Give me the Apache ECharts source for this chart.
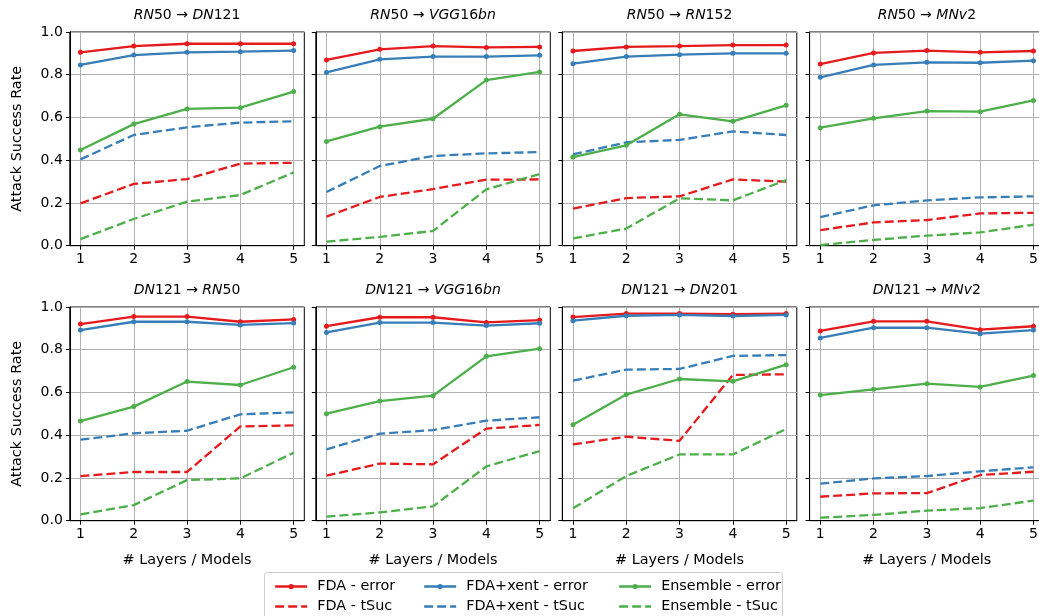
<!DOCTYPE html>
<html><head><meta charset="utf-8">
<script src="https://cdn.jsdelivr.net/npm/echarts@6/dist/echarts.min.js"></script>
<style>html,body{margin:0;padding:0;background:#fff}#c{width:1039px;height:616px}</style>
</head><body><div id="c"></div>
<script>
// ---------------- data ----------------
const xValues = [1, 2, 3, 4, 5];
const yTickValues = [0, 0.2, 0.4, 0.6, 0.8, 1.0];
const panelTitles = [
  ['RN50', 'DN121'], ['RN50', 'VGG16bn'], ['RN50', 'RN152'], ['RN50', 'MNv2'],
  ['DN121', 'RN50'], ['DN121', 'VGG16bn'], ['DN121', 'DN201'], ['DN121', 'MNv2']
];
const seriesNames = ['FDA - error', 'FDA - tSuc', 'FDA+xent - error', 'FDA+xent - tSuc', 'Ensemble - error', 'Ensemble - tSuc'];
const xAxisTitle = '# Layers / Models';
const yAxisTitle = 'Attack Success Rate';

const fdaError = [
  [0.905, 0.934, 0.945, 0.945, 0.945],
  [0.869, 0.919, 0.934, 0.928, 0.930],
  [0.911, 0.930, 0.934, 0.939, 0.939],
  [0.850, 0.902, 0.913, 0.905, 0.911],
  [0.920, 0.955, 0.955, 0.931, 0.942],
  [0.910, 0.952, 0.952, 0.928, 0.939],
  [0.953, 0.969, 0.969, 0.966, 0.969],
  [0.888, 0.933, 0.933, 0.894, 0.910]
];
const fdaTsuc = [
  [0.198, 0.289, 0.312, 0.384, 0.388],
  [0.136, 0.228, 0.265, 0.309, 0.310],
  [0.173, 0.223, 0.231, 0.310, 0.300],
  [0.073, 0.109, 0.120, 0.151, 0.154],
  [0.209, 0.228, 0.228, 0.441, 0.446],
  [0.211, 0.267, 0.264, 0.431, 0.448],
  [0.357, 0.393, 0.374, 0.682, 0.685],
  [0.112, 0.128, 0.129, 0.214, 0.229]
];
const xentError = [
  [0.846, 0.892, 0.905, 0.908, 0.913],
  [0.811, 0.872, 0.885, 0.885, 0.891],
  [0.852, 0.885, 0.894, 0.900, 0.900],
  [0.788, 0.846, 0.858, 0.856, 0.866],
  [0.892, 0.931, 0.931, 0.916, 0.925],
  [0.881, 0.927, 0.927, 0.913, 0.924],
  [0.936, 0.959, 0.963, 0.958, 0.963],
  [0.855, 0.903, 0.903, 0.875, 0.892]
];
const xentTsuc = [
  [0.404, 0.518, 0.554, 0.576, 0.582],
  [0.251, 0.373, 0.420, 0.432, 0.438],
  [0.427, 0.484, 0.495, 0.535, 0.518],
  [0.134, 0.189, 0.212, 0.226, 0.231],
  [0.379, 0.409, 0.421, 0.498, 0.507],
  [0.334, 0.407, 0.424, 0.468, 0.484],
  [0.655, 0.707, 0.710, 0.771, 0.775],
  [0.173, 0.198, 0.209, 0.231, 0.250]
];
const ensError = [
  [0.448, 0.569, 0.640, 0.646, 0.721],
  [0.488, 0.557, 0.594, 0.775, 0.813],
  [0.415, 0.470, 0.615, 0.582, 0.657],
  [0.552, 0.596, 0.630, 0.627, 0.680],
  [0.466, 0.534, 0.651, 0.635, 0.718],
  [0.501, 0.560, 0.585, 0.769, 0.805],
  [0.449, 0.590, 0.663, 0.652, 0.730],
  [0.588, 0.615, 0.641, 0.626, 0.679]
];
const ensTsuc = [
  [0.031, 0.125, 0.206, 0.237, 0.343],
  [0.019, 0.041, 0.069, 0.264, 0.335],
  [0.034, 0.080, 0.222, 0.212, 0.307],
  [0.003, 0.027, 0.047, 0.062, 0.098],
  [0.030, 0.073, 0.190, 0.198, 0.318],
  [0.019, 0.039, 0.067, 0.254, 0.326],
  [0.058, 0.209, 0.310, 0.310, 0.429],
  [0.014, 0.027, 0.047, 0.059, 0.094]
];

// ---------------- styling / layout ----------------
const RED = '#e41a1c', BLUE = '#377eb8', GREEN = '#4daf4a';
const seriesDefs = [
  { name: seriesNames[0], data: fdaError, color: RED, dashed: false },
  { name: seriesNames[1], data: fdaTsuc, color: RED, dashed: true },
  { name: seriesNames[2], data: xentError, color: BLUE, dashed: false },
  { name: seriesNames[3], data: xentTsuc, color: BLUE, dashed: true },
  { name: seriesNames[4], data: ensError, color: GREEN, dashed: false },
  { name: seriesNames[5], data: ensTsuc, color: GREEN, dashed: true }
];
const FONT = 'DejaVu Sans';
const DASH = [9, 4];
const GW = 234.5, GH = 213.7;
const colLeft = [69.8, 315.8, 562.3, 809.6];
const rowTop = [32.0, 307.0];

const grids = [], xAxes = [], yAxes = [], series = [], graphics = [];

function titleRich(s) {
  return s.replace(/[A-Za-z]+|\d+/g, m => (/\d/.test(m) ? '{n|' + m + '}' : '{i|' + m + '}'));
}

for (let p = 0; p < 8; p++) {
  const r = Math.floor(p / 4), c = p % 4;
  grids.push({
    left: colLeft[c], top: rowTop[r], width: GW, height: GH,
    show: true, borderColor: '#000', borderWidth: 1, backgroundColor: 'transparent',
    containLabel: false, outerBoundsMode: 'none'
  });
  xAxes.push({
    type: 'value', gridIndex: p, min: 0.8, max: 5.2,
    name: r === 1 ? xAxisTitle : '', nameLocation: 'middle', nameGap: 33,
    nameTextStyle: { fontFamily: FONT, fontSize: 14.4, color: '#000' },
    axisLine: { show: true, onZero: false, lineStyle: { color: '#000', width: 1 } },
    axisTick: { show: true, length: 4, customValues: xValues, lineStyle: { color: '#000' } },
    axisLabel: { show: true, customValues: xValues, margin: 7, fontFamily: FONT, fontSize: 14, color: '#000',
      formatter: v => String(v) },
    splitLine: { show: true, lineStyle: { color: '#b0b0b0', width: 1 } }
  });
  yAxes.push({
    type: 'value', gridIndex: p, min: 0, max: 1, interval: 0.2,
    name: c === 0 ? yAxisTitle : '', nameLocation: 'middle', nameGap: 46, nameRotate: 90,
    nameTextStyle: { fontFamily: FONT, fontSize: 14.4, color: '#000' },
    axisLine: { show: true, lineStyle: { color: '#000', width: 1 } },
    axisTick: { show: true, length: 4, lineStyle: { color: '#000' } },
    axisLabel: { show: c === 0, margin: 7, fontFamily: FONT, fontSize: 14, color: '#000',
      formatter: v => v.toFixed(1) },
    splitLine: { show: true, lineStyle: { color: '#b0b0b0', width: 1 } }
  });
  seriesDefs.forEach(d => {
    series.push({
      type: 'line', name: d.name, xAxisIndex: p, yAxisIndex: p,
      data: xValues.map((x, i) => [x, d.data[p][i]]),
      symbol: d.dashed ? 'none' : 'circle', symbolSize: 5, showSymbol: !d.dashed,
      color: d.color,
      lineStyle: { color: d.color, width: 2.3, type: d.dashed ? DASH : 'solid' },
      itemStyle: { color: d.color },
      animation: false, silent: true, clip: false
    });
  });
  const t = panelTitles[p];
  graphics.push({
    type: 'text', x: colLeft[c] + GW / 2, y: rowTop[r] - 16.5,
    style: {
      text: titleRich(t[0]) + '{n| → }' + titleRich(t[1]),
      rich: {
        i: { fontFamily: FONT, fontStyle: 'italic', fontSize: 14, fill: '#000' },
        n: { fontFamily: FONT, fontSize: 14, fill: '#000' }
      },
      textAlign: 'center', textVerticalAlign: 'middle'
    }
  });
}

graphics.push({
  type: 'rect', z: -1, shape: { x: 264.5, y: 572.5, width: 518, height: 60, r: 3 },
  style: { fill: '#fff', stroke: '#cccccc', lineWidth: 1 }
});

function legendItem(left, top, def) {
  return {
    orient: 'horizontal', left: left, top: top, width: 300, height: 20,
    data: [def.dashed
      ? { name: def.name, itemStyle: { color: 'rgba(0,0,0,0)', borderWidth: 0 } }
      : { name: def.name }],
    itemWidth: 32, itemHeight: 6.5, itemGap: 0,
    lineStyle: { width: 2.3 },
    textStyle: { fontFamily: FONT, fontSize: 14.4, color: '#000', padding: [0, 0, 0, 5], lineHeight: 14 },
    selectedMode: false
  };
}
const legendCols = [269, 418, 613];
const legendRows = [574.5, 594.5];
const legends = [];
seriesDefs.forEach((d, k) => {
  legends.push(legendItem(legendCols[Math.floor(k / 2)], legendRows[k % 2], d));
});

const option = {
  animation: false,
  backgroundColor: '#fff',
  grid: grids, xAxis: xAxes, yAxis: yAxes, series: series,
  legend: legends,
  graphic: graphics
};
const chart = echarts.init(document.getElementById('c'), null, { renderer: 'canvas' });
chart.setOption(option);
</script></body></html>
